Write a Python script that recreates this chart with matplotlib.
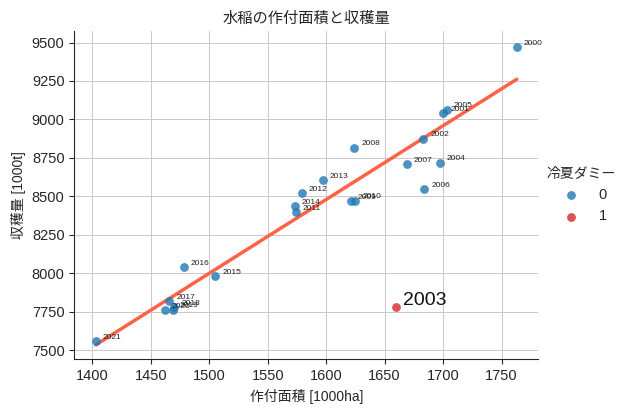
import numpy as np
import pandas as pd
import matplotlib
matplotlib.use("Agg")
import matplotlib.pyplot as plt
import seaborn as sns

years = list(range(2000, 2022))
area = [1763, 1700, 1683, 1660, 1697, 1703, 1684, 1669, 1624, 1621, 1625,
        1574, 1579, 1597, 1573, 1505, 1478, 1466, 1470, 1469, 1462, 1403]
harvest = [9472, 9041, 8875, 7777, 8719, 9063, 8545, 8708, 8816, 8467, 8472,
           8398, 8519, 8604, 8435, 7982, 8039, 7818, 7781, 7762, 7760, 7558]
cold = [0, 0, 0, 1, 0, 0, 0, 0, 0, 0, 0,
        0, 0, 0, 0, 0, 0, 0, 0, 0, 0, 0]

df = pd.DataFrame({"年": years, "作付面積": area, "収穫量": harvest, "冷夏ダミー": cold})

sns.set_style("ticks")
plt.rcParams['font.family'] = ['Liberation Sans', 'Noto Sans CJK JP', 'DejaVu Sans']

dpi = 100
fig = plt.figure(dpi=dpi, figsize=(628 / dpi, 412 / dpi))
ax = fig.add_axes([0.1183, 0.128, 0.857 - 0.1183, 0.9248 - 0.128])

palette = {0: "#1f77b4", 1: "#d62728"}
for k in [0, 1]:
    sub = df[df["冷夏ダミー"] == k]
    ax.scatter(sub["作付面積"], sub["収穫量"], color=palette[k], alpha=0.8,
               s=40, linewidths=0, label=str(k), zorder=3)

# 冷夏の年を除いて回帰直線
normal = df[df["冷夏ダミー"] == 0]
sns.regplot(data=normal, x="作付面積", y="収穫量", scatter=False, ci=None,
            ax=ax, color="tomato", line_kws={"lw": 2.5}, truncate=True)

for _, r in df.iterrows():
    if r["冷夏ダミー"] == 1:
        ax.text(r["作付面積"] + 6, r["収穫量"] + 18, str(r["年"]), fontsize=14,
                color="#111111", zorder=4)
    else:
        ax.text(r["作付面積"] + 6, r["収穫量"] + 15, str(r["年"]), fontsize=6,
                color="#222222", zorder=4)

ax.set_xlim(1384.6, 1781.3)
ax.set_ylim(7440, 9575)
ax.set_xticks(np.arange(1400, 1751, 50))
ax.set_yticks(np.arange(7500, 9501, 250))
ax.grid(True, color="#c8c8c8", lw=0.7)
ax.set_axisbelow(True)
ax.tick_params(labelsize=10.5)
ax.set_xlabel("作付面積 [1000ha]", fontsize=10)
ax.set_ylabel("収穫量 [1000t]", fontsize=10)
ax.set_title("水稲の作付面積と収穫量", fontsize=11)
sns.despine(ax=ax)

leg = ax.legend(title="冷夏ダミー", loc="center left", bbox_to_anchor=(0.99, 0.5),
                frameon=False, fontsize=10.5, title_fontsize=10, handletextpad=0.9,
                markerscale=1.0)

fig.savefig("out.png", dpi=dpi)
